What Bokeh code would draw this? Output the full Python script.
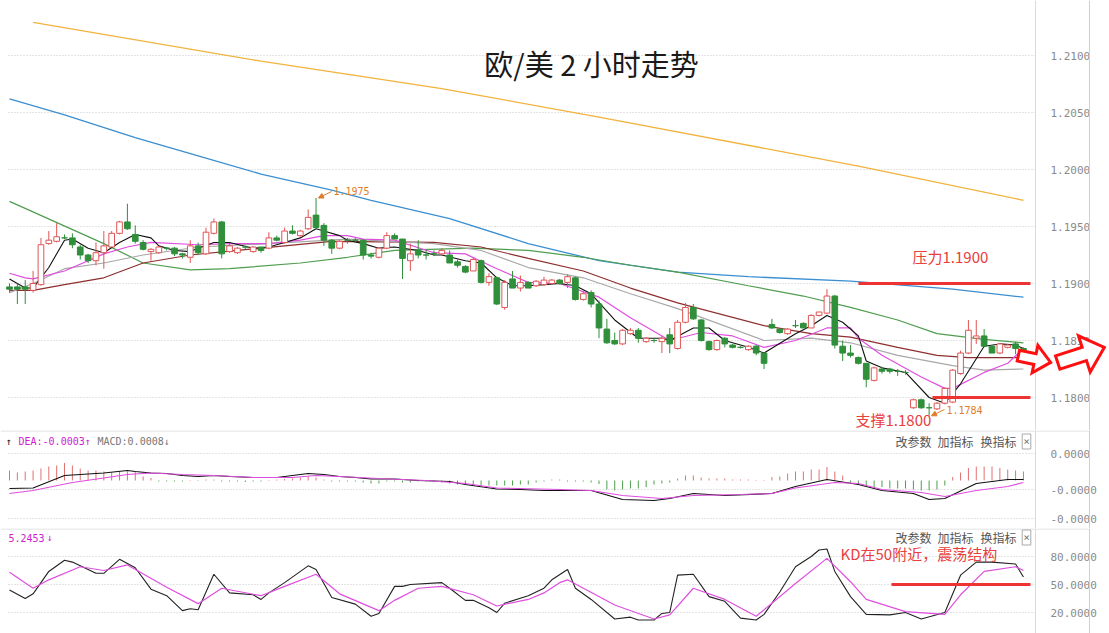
import math
from bokeh.plotting import figure
from bokeh.models import (Range1d, FixedTicker, NumeralTickFormatter, CustomJSTickFormatter,
                          Label, PolyAnnotation, Arrow, NormalHead, Span)
from bokeh.layouts import column
from bokeh.embed import file_html
from bokeh.resources import INLINE

# ---------------- data ----------------
opens = [1.1897, 1.1897, 1.1897, 1.1894, 1.1899, 1.1935, 1.1937, 1.1940, 1.1940, 1.1932,
         1.1925, 1.1920, 1.1927, 1.1932, 1.1944, 1.1954, 1.1943, 1.1936, 1.1928, 1.1927,
         1.1931, 1.1931, 1.1926, 1.1923, 1.1933, 1.1926, 1.1944, 1.1954, 1.1928, 1.1927,
         1.1932, 1.1928, 1.1932, 1.1931, 1.1940, 1.1936, 1.1946, 1.1942, 1.1948, 1.1960,
         1.1951, 1.1938, 1.1931, 1.1938, 1.1938, 1.1938, 1.1925, 1.1923, 1.1931, 1.1942,
         1.1939, 1.1920, 1.1929, 1.1925, 1.1926, 1.1926, 1.1925, 1.1919, 1.1915, 1.1911,
         1.1920, 1.1901, 1.1905, 1.1879, 1.1904, 1.1896, 1.1901, 1.1898, 1.1899, 1.1900,
         1.1903, 1.1901, 1.1905, 1.1886, 1.1892, 1.1882, 1.1860, 1.1850, 1.1847, 1.1856,
         1.1859, 1.1849, 1.1850, 1.1849, 1.1855, 1.1843, 1.1866, 1.1879, 1.1868, 1.1849,
         1.1842, 1.1852, 1.1846, 1.1844, 1.1842, 1.1845, 1.1839, 1.1864, 1.1860, 1.1856,
         1.1863, 1.1865, 1.1861, 1.1872, 1.1874, 1.1889, 1.1845, 1.1839, 1.1835, 1.1830,
         1.1815, 1.1825, 1.1825, 1.1823, 1.1822, 1.1791, 1.1798, 1.1791, 1.1790, 1.1795,
         1.1796, 1.1821, 1.1839, 1.1852, 1.1854, 1.1845, 1.1839, 1.1844, 1.1847, 1.1843]
highs = [1.1900, 1.1900, 1.1903, 1.1911, 1.1940, 1.1946, 1.1953, 1.1943, 1.1944, 1.1934,
         1.1926, 1.1936, 1.1946, 1.1946, 1.1955, 1.1970, 1.1951, 1.1938, 1.1931, 1.1933,
         1.1932, 1.1932, 1.1927, 1.1938, 1.1936, 1.1949, 1.1957, 1.1955, 1.1935, 1.1932,
         1.1933, 1.1933, 1.1932, 1.1945, 1.1942, 1.1949, 1.1951, 1.1947, 1.1965, 1.1975,
         1.1953, 1.1939, 1.1938, 1.1940, 1.1940, 1.1939, 1.1927, 1.1932, 1.1945, 1.1944,
         1.1939, 1.1935, 1.1938, 1.1929, 1.1929, 1.1931, 1.1929, 1.1921, 1.1916, 1.1923,
         1.1921, 1.1909, 1.1906, 1.1903, 1.1911, 1.1907, 1.1902, 1.1903, 1.1906, 1.1904,
         1.1904, 1.1908, 1.1906, 1.1894, 1.1894, 1.1885, 1.1869, 1.1857, 1.1860, 1.1861,
         1.1861, 1.1853, 1.1852, 1.1854, 1.1861, 1.1868, 1.1883, 1.1882, 1.1869, 1.1850,
         1.1851, 1.1853, 1.1847, 1.1845, 1.1846, 1.1846, 1.1839, 1.1869, 1.1861, 1.1861,
         1.1868, 1.1866, 1.1873, 1.1875, 1.1895, 1.1890, 1.1850, 1.1846, 1.1836, 1.1830,
         1.1827, 1.1827, 1.1826, 1.1825, 1.1824, 1.1799, 1.1799, 1.1795, 1.1796, 1.1809,
         1.1825, 1.1841, 1.1868, 1.1868, 1.1860, 1.1846, 1.1848, 1.1847, 1.1849, 1.1844]
lows = [1.1892, 1.1882, 1.1882, 1.1892, 1.1898, 1.1934, 1.1936, 1.1939, 1.1931, 1.1921,
        1.1918, 1.1916, 1.1913, 1.1932, 1.1943, 1.1947, 1.1935, 1.1929, 1.1920, 1.1926,
        1.1929, 1.1924, 1.1922, 1.1918, 1.1925, 1.1925, 1.1943, 1.1922, 1.1927, 1.1926,
        1.1930, 1.1927, 1.1927, 1.1930, 1.1937, 1.1935, 1.1943, 1.1941, 1.1947, 1.1948,
        1.1933, 1.1926, 1.1930, 1.1935, 1.1936, 1.1921, 1.1922, 1.1922, 1.1930, 1.1939,
        1.1904, 1.1911, 1.1922, 1.1921, 1.1924, 1.1925, 1.1918, 1.1914, 1.1909, 1.1911,
        1.1900, 1.1898, 1.1881, 1.1877, 1.1896, 1.1893, 1.1896, 1.1897, 1.1898, 1.1899,
        1.1899, 1.1896, 1.1885, 1.1885, 1.1879, 1.1852, 1.1847, 1.1846, 1.1846, 1.1855,
        1.1848, 1.1848, 1.1848, 1.1839, 1.1839, 1.1842, 1.1865, 1.1868, 1.1849, 1.1841,
        1.1841, 1.1844, 1.1843, 1.1843, 1.1841, 1.1837, 1.1825, 1.1860, 1.1856, 1.1855,
        1.1861, 1.1861, 1.1861, 1.1871, 1.1873, 1.1843, 1.1832, 1.1835, 1.1829, 1.1809,
        1.1814, 1.1821, 1.1821, 1.1819, 1.1820, 1.1790, 1.1790, 1.1784, 1.1789, 1.1794,
        1.1795, 1.1820, 1.1838, 1.1847, 1.1844, 1.1839, 1.1838, 1.1843, 1.1838, 1.1839]
closes = [1.1895, 1.1895, 1.1895, 1.1900, 1.1934, 1.1938, 1.1941, 1.1940, 1.1934, 1.1925,
          1.1920, 1.1927, 1.1933, 1.1944, 1.1954, 1.1948, 1.1937, 1.1930, 1.1930, 1.1932,
          1.1931, 1.1926, 1.1925, 1.1933, 1.1927, 1.1945, 1.1954, 1.1926, 1.1933, 1.1931,
          1.1932, 1.1932, 1.1929, 1.1940, 1.1938, 1.1946, 1.1944, 1.1946, 1.1958, 1.1949,
          1.1938, 1.1931, 1.1937, 1.1938, 1.1938, 1.1925, 1.1924, 1.1931, 1.1942, 1.1939,
          1.1922, 1.1926, 1.1925, 1.1925, 1.1926, 1.1929, 1.1918, 1.1916, 1.1910, 1.1921,
          1.1901, 1.1906, 1.1882, 1.1901, 1.1896, 1.1901, 1.1896, 1.1902, 1.1903, 1.1903,
          1.1900, 1.1906, 1.1886, 1.1891, 1.1882, 1.1861, 1.1848, 1.1847, 1.1859, 1.1859,
          1.1852, 1.1852, 1.1850, 1.1852, 1.1847, 1.1866, 1.1879, 1.1869, 1.1850, 1.1842,
          1.1850, 1.1847, 1.1844, 1.1844, 1.1845, 1.1839, 1.1830, 1.1861, 1.1857, 1.1860,
          1.1863, 1.1861, 1.1872, 1.1875, 1.1889, 1.1846, 1.1839, 1.1837, 1.1830, 1.1816,
          1.1826, 1.1823, 1.1823, 1.1823, 1.1822, 1.1798, 1.1791, 1.1791, 1.1795, 1.1808,
          1.1824, 1.1839, 1.1859, 1.1854, 1.1845, 1.1839, 1.1847, 1.1846, 1.1843, 1.1839]

# moving averages (sampled: bar index, price)
ma5_idx = [0, 2, 3, 5, 7, 8, 10, 12, 14, 16, 18, 19, 21, 23, 24, 26, 28, 31, 33, 35, 37, 39, 40,
           42, 43, 45, 47, 49, 52, 54, 55, 58, 60, 62, 64, 66, 68, 70, 72, 74, 77, 80, 83, 84,
           87, 89, 91, 94, 96, 100, 102, 104, 106, 108, 109, 111, 114, 117, 119, 121, 123, 124,
           126, 128, 129]
ma5_val = [1.1904, 1.1896, 1.1896, 1.1914, 1.1938, 1.1939, 1.1931, 1.1927, 1.1936, 1.1943,
           1.1940, 1.1933, 1.1929, 1.1928, 1.1931, 1.1936, 1.1936, 1.1931, 1.1932, 1.1936,
           1.1940, 1.1948, 1.1946, 1.1942, 1.1938, 1.1935, 1.1931, 1.1932, 1.1929, 1.1925,
           1.1925, 1.1920, 1.1918, 1.1905, 1.1898, 1.1898, 1.1899, 1.1900, 1.1898, 1.1891,
           1.1868, 1.1852, 1.1852, 1.1850, 1.1861, 1.1861, 1.1850, 1.1844, 1.1839, 1.1856,
           1.1863, 1.1872, 1.1866, 1.1854, 1.1832, 1.1826, 1.1822, 1.1800, 1.1795, 1.1812,
           1.1834, 1.1845, 1.1847, 1.1846, 1.1843]
ma10_idx = [0, 2, 3, 7, 12, 15, 18, 24, 28, 33, 37, 40, 43, 45, 49, 54, 58, 62, 66, 70, 75, 79,
            84, 88, 92, 96, 100, 104, 107, 108, 111, 116, 119, 120, 124, 127, 129]
ma10_val = [1.1909, 1.1905, 1.1904, 1.1911, 1.1926, 1.1932, 1.1936, 1.1934, 1.1935, 1.1935,
            1.1938, 1.1942, 1.1942, 1.1939, 1.1938, 1.1927, 1.1926, 1.1913, 1.1901, 1.1900,
            1.1888, 1.1870, 1.1850, 1.1857, 1.1854, 1.1844, 1.1850, 1.1861, 1.1861, 1.1852,
            1.1837, 1.1818, 1.1808, 1.1808, 1.1822, 1.1830, 1.1843]
ma20_idx = [0, 3, 7, 12, 17, 24, 33, 43, 54, 60, 66, 73, 79, 85, 96, 102, 107, 113, 120, 124, 129]
ma20_val = [1.1892, 1.1900, 1.1913, 1.1918, 1.1925, 1.1932, 1.1935, 1.1939, 1.1935, 1.1929,
            1.1914, 1.1905, 1.1891, 1.1878, 1.1850, 1.1852, 1.1848, 1.1837, 1.1828, 1.1824,
            1.1825]
ma30_idx = [0, 3, 7, 12, 17, 23, 29, 35, 41, 54, 60, 66, 73, 79, 85, 96, 102, 107, 113, 118,
            122, 129]
ma30_val = [1.1894, 1.1894, 1.1899, 1.1905, 1.1918, 1.1925, 1.1929, 1.1933, 1.1937, 1.1936,
            1.1932, 1.1922, 1.1911, 1.1896, 1.1883, 1.1863, 1.1856, 1.1853, 1.1844, 1.1837,
            1.1835, 1.1835]
ma60_idx = [0, 12, 17, 23, 28, 37, 43, 49, 59, 66, 73, 79, 85, 94, 101, 107, 113, 118, 124, 129]
ma60_val = [1.1972, 1.1935, 1.1918, 1.1912, 1.1913, 1.1918, 1.1923, 1.1929, 1.1931, 1.1929,
            1.1923, 1.1916, 1.1910, 1.1898, 1.1889, 1.1879, 1.1868, 1.1856, 1.1851, 1.1848]
ma120_idx = [0, 7, 16, 24, 32, 41, 46, 56, 66, 75, 85, 94, 107, 120, 129]
ma120_val = [1.2062, 1.2048, 1.2028, 1.2012, 1.1996, 1.1982, 1.1973, 1.1957, 1.1935, 1.1920,
             1.1910, 1.1906, 1.1902, 1.1895, 1.1888]
ma250_idx = [3, 32, 55, 75, 108, 129]
ma250_val = [1.2129, 1.2095, 1.2071, 1.2046, 1.2003, 1.1973]

price_ticks = [1.1800, 1.1850, 1.1900, 1.1950, 1.2000, 1.2050, 1.2100]

# MACD panel
macd_hist = [1.0e-4, 0.8e-4, 0.9e-4, 1.0e-4, 1.2e-4, 1.4e-4, 1.5e-4, 1.75e-4, 1.5e-4, 1.2e-4,
             1.0e-4, 1.0e-4, 0.9e-4, 0.8e-4, 0.9e-4, 0.9e-4, 0.9e-4, 0.4e-4, 0.25e-4,
             -0.1e-4, -0.1e-4, -0.1e-4, -0.1e-4, 0.05e-4, -0.05e-4, 0.1e-4, 0.1e-4, -0.1e-4,
             -0.1e-4, -0.1e-4, -0.15e-4, -0.1e-4, -0.1e-4, 0.05e-4, 0.1e-4, 0.15e-4, 0.2e-4,
             0.3e-4, 0.4e-4, 0.3e-4, 0.1e-4, -0.1e-4, -0.1e-4, -0.1e-4, -0.1e-4, -0.2e-4,
             -0.3e-4, -0.3e-4, -0.1e-4, -0.1e-4, -0.2e-4, -0.2e-4, -0.1e-4, -0.1e-4, -0.1e-4,
             -0.2e-4, -0.3e-4, -0.4e-4, -0.4e-4, -0.5e-4, -0.5e-4, -0.5e-4, -0.5e-4, -0.5e-4,
             -0.5e-4, -0.4e-4, -0.4e-4, -0.2e-4, -0.1e-4, 0.1e-4, 0.1e-4, -0.1e-4, -0.1e-4,
             -0.1e-4,
             -0.2e-4, -0.35e-4, -0.9e-4, -1.0e-4, -0.9e-4, -0.8e-4, -0.8e-4, -0.65e-4, -0.4e-4,
             -0.3e-4, -0.2e-4,
             0.2e-4, 0.5e-4, 0.5e-4, 0.3e-4, 0.2e-4, 0.2e-4, 0.2e-4, 0.1e-4, 0.1e-4, 0.1e-4,
             0.05e-4, 0.05e-4,
             0.35e-4, 0.4e-4, 0.7e-4, 0.9e-4, 0.9e-4, 1.1e-4, 1.1e-4, 1.35e-4, 0.9e-4, 0.5e-4,
             -0.2e-4, -0.35e-4, -0.5e-4, -0.65e-4, -0.65e-4, -0.8e-4, -0.8e-4, -0.8e-4, -0.9e-4,
             -1.0e-4, -1.0e-4, -0.9e-4, -0.5e-4,
             0.35e-4, 0.8e-4, 1.25e-4, 1.4e-4, 1.4e-4, 1.4e-4, 1.25e-4, 1.1e-4, 1.0e-4, 0.9e-4]
dif_idx = [0, 3, 7, 9, 12, 15, 16, 18, 20, 22, 24, 26, 28, 31, 34, 36, 38, 40, 42, 44, 46, 49,
           52, 56, 58, 62, 65, 68, 74, 78, 82, 84, 87, 91, 97, 100, 104, 108, 111, 115, 117,
           119, 123, 127, 129]
dif_val = [-0.8e-4, -0.75e-4, 0.5e-4, 0.6e-4, 0.75e-4, 1.0e-4, 0.9e-4, 0.75e-4, 0.7e-4, 0.5e-4,
           0.4e-4, 0.5e-4, 0.4e-4, 0.3e-4, 0.3e-4, 0.5e-4, 0.7e-4, 0.6e-4, 0.4e-4, 0.3e-4,
           0.15e-4, 0.15e-4, 0.0, -0.1e-4, -0.4e-4, -0.85e-4, -0.9e-4, -1.0e-4, -1.0e-4,
           -1.9e-4, -2.0e-4, -1.8e-4, -1.3e-4, -1.5e-4, -1.3e-4, -0.6e-4, 0.1e-4, -0.4e-4,
           -1.0e-4, -1.3e-4, -1.9e-4, -1.8e-4, -0.3e-4, 0.1e-4, 0.1e-4]
dea_idx = [0, 3, 8, 12, 15, 18, 22, 26, 31, 36, 39, 42, 47, 53, 58, 62, 70, 74, 78, 83, 87, 93,
           97, 100, 105, 108, 111, 116, 119, 123, 127, 129]
dea_val = [-1.3e-4, -1.0e-4, -0.2e-4, 0.25e-4, 0.6e-4, 0.75e-4, 0.6e-4, 0.5e-4, 0.3e-4, 0.3e-4,
           0.5e-4, 0.4e-4, 0.2e-4, 0.0, -0.3e-4, -0.75e-4, -0.9e-4, -1.0e-4, -1.5e-4, -1.8e-4,
           -1.5e-4, -1.4e-4, -1.3e-4, -0.75e-4, -0.2e-4, -0.3e-4, -0.9e-4, -1.2e-4, -1.6e-4,
           -1.0e-4, -0.6e-4, -0.2e-4]
macd_ticks = [0.00027, -0.00009, -0.00038]

# KD panel
k_idx = [0, 2, 3, 5, 7, 8, 11, 12, 14, 16, 18, 20, 22, 23, 24, 26, 28, 31, 32, 33, 35, 38, 39,
         41, 44, 46, 47, 49, 50, 51, 55, 56, 58, 59, 61, 62, 63, 66, 68, 69, 71, 72, 74, 77, 79,
         80, 82, 83, 84, 85, 87, 89, 91, 93, 95, 96, 98, 100, 102, 103, 104, 105, 107, 109,
         112, 114, 116, 119, 121, 123, 125, 128, 129]
k_val = [44, 35, 40, 64, 76, 74, 62, 62, 77, 68, 45, 38, 22, 24, 23, 61, 41, 39, 34, 41, 52, 70,
         66, 36, 29, 16, 19, 48, 48, 50, 52, 46, 33, 33, 25, 20, 30, 38, 46, 55, 66, 46, 34, 13,
         15, 12, 12, 19, 20, 60, 61, 37, 32, 14, 12, 18, 42, 69, 80, 87, 88, 64, 37, 18, 17.5,
         20, 13, 20, 60, 74, 74, 72, 58]
d_idx = [0, 3, 5, 9, 12, 15, 20, 24, 27, 32, 35, 39, 42, 47, 49, 52, 55, 59, 62, 66, 68, 70, 71,
         77, 82, 84, 87, 91, 95, 100, 104, 107, 109, 114, 119, 121, 124, 128, 129]
d_val = [63, 46, 55, 69, 65, 71, 47, 29.5, 46, 38, 48, 61, 40, 22, 33, 46, 48, 39, 27, 34, 41,
         52, 55, 28, 13, 17.5, 46, 34, 16, 51, 78, 53, 34, 21, 18, 39, 64, 69, 65]
kd_ticks = [20, 50, 80]

# ---------------- styling ----------------
RED = "#e05555"
GREEN = "#2f8f3a"
GRID = "#c9c9c9"
FRAME = "#dadada"
MONO = "DejaVu Sans Mono"
CJK = "Noto Sans CJK SC"
W = 1109
AXIS_PX = 1035


# screen pixel -> data helpers (for annotations only)
def sx(px):
    return (px - 9.0) / 7.86


def main_y(py):
    return 1.19 + (283.0 - py) * (0.03 / 342.0)


def macd_y(py):
    return (480.0 - py) * 1e-5


def kd_y(py):
    return 80.0 - (py - 556.0) * (60.0 / 56.0)


xr = Range1d(sx(0), sx(W))


def make_fig(height, y0, y1, ticks, formatter, top_sep):
    p = figure(width=W, height=height, x_range=xr, y_range=Range1d(y0, y1),
               output_backend="svg", toolbar_location=None, title=None,
               y_axis_location="right", x_axis_location=None,
               min_border_left=0, min_border_right=0,
               min_border_top=0, min_border_bottom=0)
    p.background_fill_color = "white"
    p.border_fill_color = "white"
    p.outline_line_color = None
    p.xgrid.visible = False
    p.ygrid.visible = False
    ax = p.yaxis[0]
    ax.fixed_location = sx(AXIS_PX)
    ax.ticker = FixedTicker(ticks=ticks)
    ax.formatter = formatter
    ax.axis_line_color = FRAME
    ax.major_tick_line_color = None
    ax.minor_tick_line_color = None
    ax.major_label_text_font = MONO
    ax.major_label_text_font_size = "11px"
    ax.major_label_text_color = "#8a8a8a"
    ax.major_label_standoff = 9
    # dotted horizontal grid at the tick values
    n = len(ticks)
    p.segment([sx(8)] * n, ticks, [sx(AXIS_PX)] * n, ticks, line_color=GRID,
              line_dash="1 2", line_width=1)
    p.add_layout(Span(location=sx(1089), dimension="height", line_color="#cfcfcf",
                      line_width=1))
    if top_sep is not None:
        p.segment([sx(0)], [top_sep], [sx(1089)], [top_sep], line_color=FRAME, line_width=1)
    return p


def block_arrow(cx, cy, length, shaft, head, head_len, angle_deg):
    pts = [(-length / 2, shaft), (length / 2 - head_len, shaft), (length / 2 - head_len, head),
           (length / 2, 0), (length / 2 - head_len, -head), (length / 2 - head_len, -shaft),
           (-length / 2, -shaft)]
    th = math.radians(angle_deg)
    xs, ys = [], []
    for u, v in pts:
        px = cx + u * math.cos(th) - v * math.sin(th)
        py = cy - (u * math.sin(th) + v * math.cos(th))
        xs.append(sx(px))
        ys.append(main_y(py))
    return xs, ys


def buttons(p, yv):
    for txt, px in (("改参数", 895), ("加指标", 937), ("换指标", 980)):
        p.add_layout(Label(x=sx(px), y=yv, text=txt, text_font=CJK, text_font_size="12px",
                           text_color="#555555", text_baseline="middle", text_align="left"))
    p.add_layout(Label(x=sx(1026), y=yv, text="×", text_font=MONO, text_font_size="11px",
                       text_color="#777777", text_baseline="middle", text_align="center",
                       border_line_color="#aaaaaa", padding=1))


# ---------------- main panel ----------------
main = make_fig(430, main_y(430), main_y(0), price_ticks,
                NumeralTickFormatter(format="0.0000"), None)

for ix, vals, col, lw in ((ma250_idx, ma250_val, "#f2b33d", 1.3),
                          (ma120_idx, ma120_val, "#3b8ed0", 1.3),
                          (ma60_idx, ma60_val, "#4f9d4f", 1.2),
                          (ma30_idx, ma30_val, "#8e2e2e", 1.2),
                          (ma20_idx, ma20_val, "#a8a8a8", 1.2),
                          (ma10_idx, ma10_val, "#e04ee0", 1.2),
                          (ma5_idx, ma5_val, "#111111", 1.1)):
    main.line(ix, vals, line_color=col, line_width=lw)

idx = list(range(len(opens)))
up = [c > o for o, c in zip(opens, closes)]
ccol = [RED if u else GREEN for u in up]
cfill = ["white" if u else GREEN for u in up]
ctop = [max(o, c) for o, c in zip(opens, closes)]
cbot = [min(o, c) for o, c in zip(opens, closes)]
main.segment(idx, highs, idx, lows, line_color=ccol, line_width=1)
main.vbar(x=idx, top=ctop, bottom=cbot, width=0.72, fill_color=cfill, line_color=ccol,
          line_width=1)

# title
main.add_layout(Label(x=sx(591), y=main_y(62), text="欧/美 2 小时走势", text_font=CJK,
                      text_font_size="29px", text_color="#1a1a1a", text_align="center",
                      text_baseline="middle"))
# extremes
hi_i = highs.index(max(highs))
lo_i = lows.index(min(lows))
main.add_layout(Arrow(end=NormalHead(size=5, line_color="#e07b2a", fill_color="#e07b2a"),
                      x_start=sx(331), y_start=main_y(191), x_end=hi_i + 0.3, y_end=max(highs),
                      line_color="#e07b2a", line_width=1))
main.add_layout(Label(x=sx(333), y=main_y(190), text="%.4f" % max(highs), text_font=MONO,
                      text_font_size="10px", text_color="#e07b2a", text_baseline="middle"))
main.add_layout(Arrow(end=NormalHead(size=5, line_color="#e07b2a", fill_color="#e07b2a"),
                      x_start=sx(944), y_start=main_y(409), x_end=lo_i + 0.3, y_end=min(lows),
                      line_color="#e07b2a", line_width=1))
main.add_layout(Label(x=sx(946), y=main_y(409), text="%.4f" % min(lows), text_font=MONO,
                      text_font_size="10px", text_color="#e07b2a", text_baseline="middle"))

# support / resistance
main.segment(x0=[sx(858)], y0=[1.19], x1=[sx(1030)], y1=[1.19], line_color="#ee3333",
             line_width=3)
main.segment(x0=[sx(932)], y0=[1.18], x1=[sx(1030)], y1=[1.18], line_color="#ee3333",
             line_width=3)
main.add_layout(Label(x=sx(912), y=main_y(256), text="压力1.1900", text_font=CJK,
                      text_font_size="15px", text_color="#e8403c", text_baseline="middle"))
main.add_layout(Label(x=sx(855), y=main_y(419), text="支撑1.1800", text_font=CJK,
                      text_font_size="15px", text_color="#e8403c", text_baseline="middle"))

# hollow arrows
for geo in ((1034, 358.5, 33, 5.5, 14, 16, -12), (1080.5, 354.5, 49, 7, 19, 21, 18)):
    axs, ays = block_arrow(*geo)
    main.add_layout(PolyAnnotation(xs=axs, ys=ays, fill_color="white", fill_alpha=1.0,
                                   line_color="#ff1010", line_alpha=1.0, line_width=3,
                                   line_join="miter", level="overlay"))

# ---------------- MACD panel ----------------
macd = make_fig(98, macd_y(528), macd_y(430), macd_ticks,
                CustomJSTickFormatter(code="return tick > 0.0001 ? '0.0000' : '-0.0000';"),
                macd_y(430.5))
hcol = ["#e07070" if h > 0 else "#4aa04a" for h in macd_hist]
macd.segment(idx, [0] * len(idx), idx, macd_hist, line_color=hcol, line_width=1)
macd.line(dif_idx, dif_val, line_color="#111111", line_width=1.1)
macd.line(dea_idx, dea_val, line_color="#e04ee0", line_width=1.2)
hy = macd_y(441)
for txt, px, col in (("↑", 5, "#111111"), ("DEA:-0.0003", 18, "#d020d0"), ("↑", 84, "#d020d0"),
                     ("MACD:0.0008", 97, "#777777"), ("↓", 163, "#777777")):
    macd.add_layout(Label(x=sx(px), y=hy, text=txt, text_font=MONO, text_font_size="10px",
                          text_color=col, text_baseline="middle", text_align="left"))
buttons(macd, hy)

# ---------------- KD panel ----------------
kd = make_fig(105, kd_y(633), kd_y(528), kd_ticks, NumeralTickFormatter(format="0.0000"),
              kd_y(528.5))
kd.line(k_idx, k_val, line_color="#222222", line_width=1.1)
kd.line(d_idx, d_val, line_color="#e04ee0", line_width=1.2)
kd.segment(x0=[sx(891)], y0=[50], x1=[sx(1030)], y1=[50], line_color="#ee3333", line_width=3)
ky = kd_y(537)
kd.add_layout(Label(x=sx(8), y=ky, text="5.2453", text_font=MONO, text_font_size="10px",
                    text_color="#d020d0", text_baseline="middle"))
kd.add_layout(Label(x=sx(46), y=ky, text="↓", text_font=MONO, text_font_size="10px",
                    text_color="#d020d0", text_baseline="middle"))
kd.add_layout(Label(x=sx(840), y=kd_y(553), text="KD在50附近，震荡结构", text_font=CJK,
                    text_font_size="15px", text_color="#e8403c", text_baseline="middle"))
buttons(kd, ky)

layout = column(main, macd, kd, spacing=0)
open("out.html", "w").write(file_html(layout, INLINE))
